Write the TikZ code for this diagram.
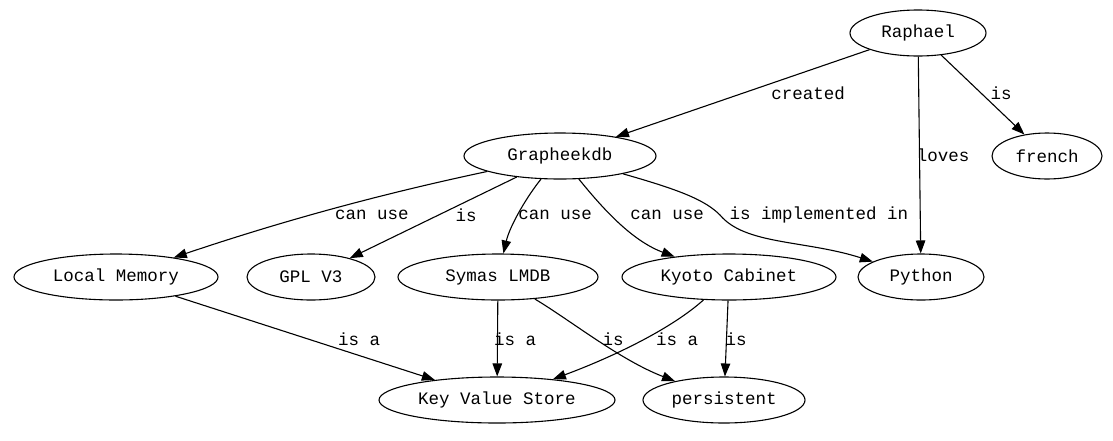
\documentclass[tikz,border=0pt]{standalone}
\usepackage{fontspec}
\setmonofont{Liberation Mono}
\usetikzlibrary{shapes.geometric,arrows.meta}
\tikzset{
  ent/.style={ellipse, draw, line width=1.1pt, inner sep=0pt, minimum height=46pt, font=\ttfamily\fontsize{17.5}{20}\selectfont},
  lbl/.style={inner sep=0pt, font=\ttfamily\fontsize{17.5}{20}\selectfont},
  rel/.style={draw, line width=1.1pt, -{Triangle[length=13pt,width=9.5pt]}}
}
\begin{document}
\begin{tikzpicture}[x=1pt,y=-1pt]
\useasboundingbox (0,0) rectangle (1113,440);
% nodes
\node[ent, minimum width=136pt] (rap) at (918,33) {Raphael};
\node[ent, minimum width=192pt] (gra) at (560,156) {Grapheekdb};
\node[ent, minimum width=110pt] (fre) at (1047,156) {french};
\node[ent, minimum width=204pt] (loc) at (116,277) {Local Memory};
\node[ent, minimum width=128pt] (gpl) at (311,277) {GPL V3};
\node[ent, minimum width=200pt] (sym) at (498,277) {Symas LMDB};
\node[ent, minimum width=214pt] (kyo) at (729,277) {Kyoto Cabinet};
\node[ent, minimum width=126pt] (pyt) at (921,277) {Python};
\node[ent, minimum width=236pt] (kvs) at (497,400) {Key Value Store};
\node[ent, minimum width=162pt] (per) at (724,400) {persistent};
% edges
\path[rel] (rap) -- (gra);
\path[rel] (rap) -- (pyt);
\path[rel] (rap) -- (fre);
\path[rel] (gra) .. controls (400,190) and (300,215) .. (loc);
\path[rel] (gra) -- (gpl);
\path[rel] (gra) .. controls (528,195) and (510,225) .. (sym);
\path[rel] (gra) .. controls (600,205) and (630,240) .. (kyo);
\coordinate (mid) at (720,215);
\path[rel] (gra) .. controls (680,190) and (705,200) .. (mid) .. controls (745,245) and (805,240) .. (pyt);
\path[rel] (loc) -- (kvs);
\path[rel] (sym) -- (kvs);
\path[rel] (sym) .. controls (570,320) and (620,360) .. (per);
\path[rel] (kyo) .. controls (670,330) and (610,358) .. (kvs);
\path[rel] (kyo) -- (per);
% labels
\node[lbl] (l1) at (808,93) {created};
\node[lbl] (l2) at (943,155) {loves};
\node[lbl] (l3) at (1001,93) {is};
\node[lbl] (l4) at (372,215) {can use};
\node[lbl] (l5) at (466,215) {is};
\node[lbl] (l6) at (555,215) {can use};
\node[lbl] (l7) at (667,215) {can use};
\node[lbl] (l8) at (819,215) {is implemented in};
\node[lbl] (l9) at (359,339) {is a};
\node[lbl] (l10) at (515,339) {is a};
\node[lbl] (l11) at (613,339) {is};
\node[lbl] (l12) at (677,339) {is a};
\node[lbl] (l13) at (736,339) {is};
\end{tikzpicture}
\end{document}
